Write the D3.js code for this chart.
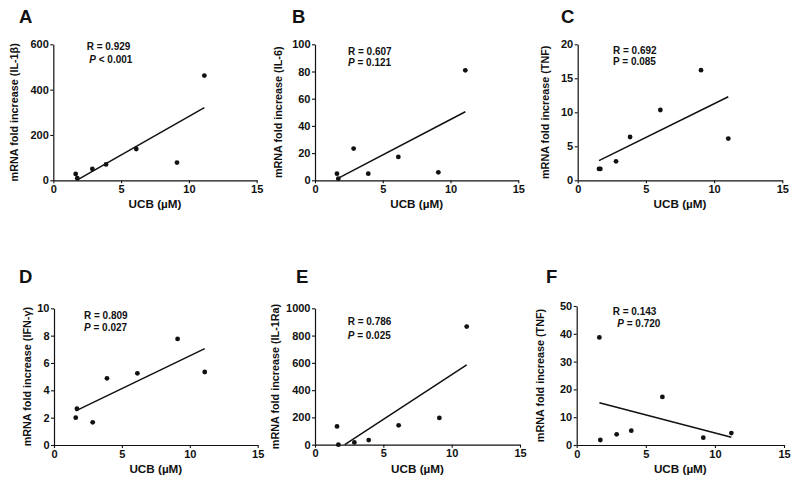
<!DOCTYPE html>
<html><head><meta charset="utf-8">
<script src="https://cdn.jsdelivr.net/npm/d3@7"></script>
<style>
html,body{margin:0;padding:0;background:#fff;}
svg{display:block;font-family:"Liberation Sans",Arial,Helvetica,sans-serif;font-weight:bold;}
svg text{font-weight:bold !important;}
.tick text{font-size:11px !important;font-family:"Liberation Sans",Arial,sans-serif !important;}
</style></head>
<body>
<svg id="chart" width="800" height="487"></svg>
<script>
// ---- data ----
const panelLetters = ["A","B","C","D","E","F"];
const yTitles = ["mRNA fold increase (IL-1β)","mRNA fold increase (IL-6)","mRNA fold increase (TNF)",
                 "mRNA fold increase (IFN-γ)","mRNA fold increase (IL-1Ra)","mRNA fold increase (TNF)"];
const xTitle = "UCB (µM)";
const xTicks = [0,5,10,15];
const yTicksA = [0,200,400,600];
const yTicksB = [0,20,40,60,80,100];
const yTicksC = [0,5,10,15,20];
const yTicksD = [0,2,4,6,8,10];
const yTicksE = [0,200,400,600,800,1000];
const yTicksF = [0,10,20,30,40,50];
const rValues = ["0.929","0.607","0.692","0.809","0.786","0.143"];
const pValues = ["< 0.001","= 0.121","= 0.085","= 0.027","= 0.025","= 0.720"];
const pItalic = [true,true,false,true,true,true];

const ucbA = [1.65,1.77,2.88,3.89,6.12,9.12,11.14];
const il1b = [28,9,50,70,138,78,462];
const ucbB = [1.62,1.72,2.85,3.93,6.15,9.10,11.09];
const il6  = [4.9,1.2,23.3,4.9,17.2,5.9,80.9];
const ucbC = [1.56,1.66,2.81,3.84,6.06,9.04,11.04];
const tnfC = [1.67,1.67,2.79,6.37,10.34,16.2,6.13];
const ucbD = [1.60,1.69,2.85,3.90,6.14,9.10,11.10];
const ifng = [2.0,2.66,1.66,4.88,5.24,7.76,5.34];
const ucbE = [1.61,1.71,2.88,3.93,6.12,9.10,11.10];
const il1ra= [134,0,17,34,142,196,866];
const ucbF = [1.64,1.71,2.89,3.95,6.20,9.16,11.19];
const tnfF = [38.7,1.8,3.84,5.16,17.3,2.64,4.3];

const xSeries = [ucbA,ucbB,ucbC,ucbD,ucbE,ucbF];
const ySeries = [il1b,il6,tnfC,ifng,il1ra,tnfF];
const yTickSets = [yTicksA,yTicksB,yTicksC,yTicksD,yTicksE,yTicksF];

// ---- layout ----
const layout = [
  {x0:53.3,x1:256.7,yT:44.3,yB:180.3,titleOff:39,letterX:19,letterY:23,annX:86.7,annY:46.7,pDx:2.6,lineGap:12.6},
  {x0:315,x1:518.3,yT:44.3,yB:180.3,titleOff:37,letterX:292,letterY:23,annX:348,annY:51.7,pDx:0,lineGap:11},
  {x0:577.7,x1:782.3,yT:44.3,yB:180.3,titleOff:33,letterX:561,letterY:23,annX:613,annY:50,pDx:0,lineGap:11},
  {x0:54,x1:257.7,yT:308.3,yB:445,titleOff:27,letterX:19,letterY:283,annX:84,annY:315,pDx:0,lineGap:12},
  {x0:315,x1:520,yT:308.3,yB:444.7,titleOff:40,letterX:296,letterY:283,annX:347.7,annY:321,pDx:0,lineGap:14},
  {x0:576.7,x1:784,yT:306,yB:445,titleOff:37,letterX:546,letterY:283,annX:612.7,annY:311,pDx:4.6,lineGap:12.3}
];

const svg = d3.select("#chart");
const ink = "#111";
const FONT = '"Liberation Sans",Arial,Helvetica,sans-serif';

function linreg(xs, ys){
  const n = xs.length, mx = d3.mean(xs), my = d3.mean(ys);
  let sxy=0, sxx=0;
  for(let i=0;i<n;i++){ sxy += (xs[i]-mx)*(ys[i]-my); sxx += (xs[i]-mx)**2; }
  const b = sxy/sxx; return {b, a: my - b*mx};
}

layout.forEach((L,i)=>{
  const ticks = yTickSets[i];
  const x = d3.scaleLinear().domain([0,15]).range([L.x0,L.x1]);
  const y = d3.scaleLinear().domain([0,d3.max(ticks)]).range([L.yB,L.yT]);
  const g = svg.append("g");

  // axes
  const xa = g.append("g").attr("transform",`translate(0,${L.yB})`)
    .call(d3.axisBottom(x).tickValues(xTicks).tickFormat(d3.format("d")).tickSize(3).tickPadding(2).tickSizeOuter(0));
  const ya = g.append("g").attr("transform",`translate(${L.x0},0)`)
    .call(d3.axisLeft(y).tickValues(ticks).tickFormat(d3.format("d")).tickSize(3).tickPadding(1.5).tickSizeOuter(0));
  [xa,ya].forEach(a=>{
    a.attr("font-size",null).attr("font-family",null);
    a.select(".domain").attr("stroke",ink).attr("stroke-width",1.2);
    a.selectAll(".tick line").attr("stroke",ink).attr("stroke-width",1.1);
    a.selectAll(".tick text").attr("fill",ink);
  });

  // titles
  g.append("text").attr("x",(L.x0+L.x1)/2).attr("y",L.yB+28).attr("text-anchor","middle")
    .attr("font-size","11.7").attr("fill",ink).text(xTitle);
  g.append("text").attr("transform",`translate(${L.x0-L.titleOff},${(L.yT+L.yB)/2}) rotate(-90)`)
    .attr("text-anchor","middle").attr("dy","0.36em").attr("font-size","10.8").attr("fill",ink).text(yTitles[i]);
  g.append("text").attr("x",L.letterX).attr("y",L.letterY).attr("font-size","18.5").attr("fill",ink).text(panelLetters[i]);

  // annotation
  g.append("text").attr("x",L.annX).attr("y",L.annY).attr("dy","0.36em").attr("font-size","10").attr("fill",ink)
    .text("R = "+rValues[i]);
  const pt = g.append("text").attr("x",L.annX+L.pDx).attr("y",L.annY+L.lineGap).attr("dy","0.36em").attr("font-size","10").attr("fill",ink);
  pt.append("tspan").attr("font-style",pItalic[i]?"italic":"normal").text("P");
  pt.append("tspan").text(" "+pValues[i]);

  // regression line
  const xs = xSeries[i], ys = ySeries[i];
  const {a,b} = linreg(xs,ys);
  let xa0 = d3.min(xs), xa1 = d3.max(xs);
  if(a + b*xa0 < 0) xa0 = -a/b;
  if(a + b*xa1 < 0) xa1 = -a/b;
  g.append("line").attr("x1",x(xa0)).attr("y1",y(a+b*xa0)).attr("x2",x(xa1)).attr("y2",y(a+b*xa1))
    .attr("stroke",ink).attr("stroke-width",1.5);

  // points
  g.selectAll("circle.pt").data(xs.map((v,k)=>[v,ys[k]])).enter().append("circle")
    .attr("cx",d=>x(d[0])).attr("cy",d=>y(d[1])).attr("r",2.4).attr("fill",ink);
});
</script>
</body></html>
